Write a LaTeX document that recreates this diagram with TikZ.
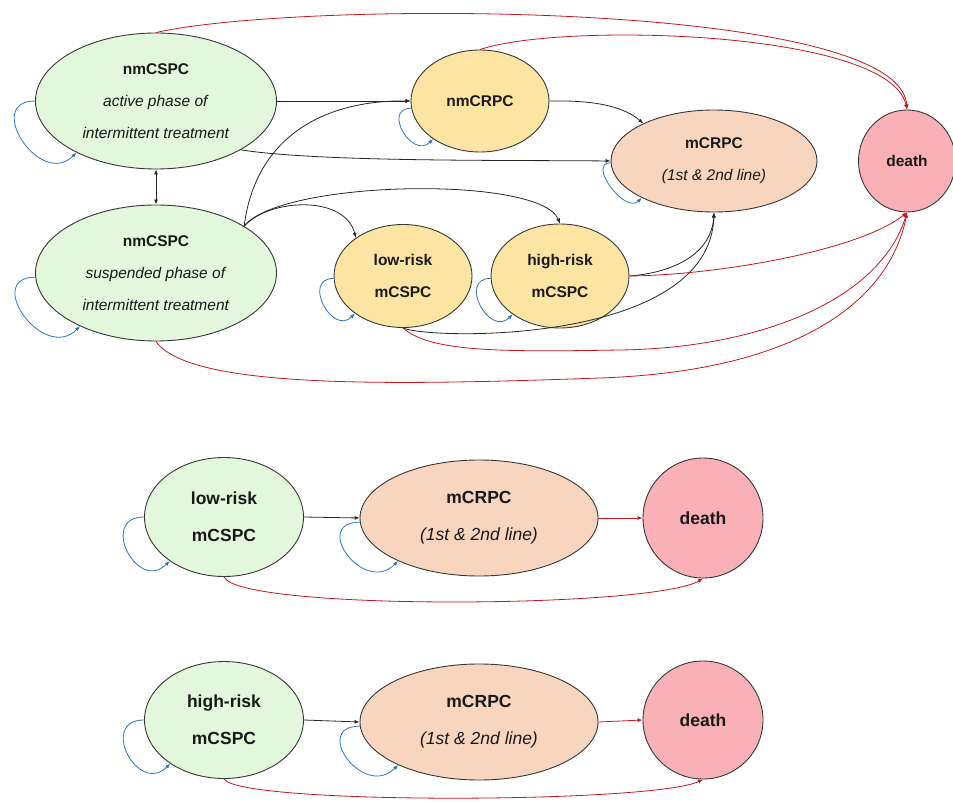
\documentclass[tikz,border=0pt]{standalone}
\usepackage{fontspec}
\setmainfont{Liberation Sans}
\usetikzlibrary{shapes.geometric,arrows.meta}
\definecolor{cspcgreen}{RGB}{226,247,220}
\definecolor{mcspcyellow}{RGB}{252,228,163}
\definecolor{crpcpeach}{RGB}{248,213,190}
\definecolor{deathpink}{RGB}{249,176,183}
\definecolor{edgered}{RGB}{196,22,32}
\definecolor{loopblue}{RGB}{46,117,182}
\definecolor{rimgray}{RGB}{55,55,55}
\tikzset{
  state/.style={ellipse, draw=rimgray, line width=0.9pt, inner sep=0pt, align=center, text=black!90},
  go/.style={->, line width=0.8pt, black!85},
  die/.style={->, line width=0.8pt, edgered},
  stay/.style={->, line width=0.8pt, loopblue, out=180, in=225, looseness=2},
}
\newcommand{\tsmall}{\fontsize{15.5}{32}\selectfont}
\newcommand{\tbig}{\fontsize{17.5}{37}\selectfont}
\begin{document}
\begin{tikzpicture}[x=1pt, y=-1pt, >={Latex[length=5pt,width=4pt]}]
  \useasboundingbox (0,0) rectangle (953,802);
  % upper model
  \node[state, fill=cspcgreen, minimum width=241pt, minimum height=136pt, font=\tsmall] (actv) at (156,101)
    {\textbf{nmCSPC}\\\textit{active phase of}\\\textit{intermittent treatment}};
  \node[state, fill=cspcgreen, minimum width=241pt, minimum height=136pt, font=\tsmall] (susp) at (156,273)
    {\textbf{nmCSPC}\\\textit{suspended phase of}\\\textit{intermittent treatment}};
  \node[state, fill=mcspcyellow, minimum width=138pt, minimum height=102pt, font=\tsmall] (nmcrpc) at (480,101) {\textbf{nmCRPC}};
  \node[state, fill=crpcpeach, minimum width=206pt, minimum height=102pt, font=\tsmall] (mcrpc) at (714,161)
    {\textbf{mCRPC}\\\textit{(1st \& 2nd line)}};
  \node[state, fill=deathpink, minimum width=97pt, minimum height=102pt, font=\tsmall] (death) at (907,161) {\textbf{death}};
  \node[state, fill=mcspcyellow, minimum width=138pt, minimum height=103pt, font=\tsmall] (lowr) at (403,276) {\textbf{low-risk}\\\textbf{mCSPC}};
  \node[state, fill=mcspcyellow, minimum width=138pt, minimum height=104pt, font=\tsmall] (highr) at (560,276) {\textbf{high-risk}\\\textbf{mCSPC}};

  \draw[die] (actv.north) .. controls (300,0) and (900,0) .. (death.north);
  \draw[die] (nmcrpc.north) .. controls (560,22) and (890,30) .. (death.north);
  \draw[go] (actv.east) -- (nmcrpc.west);
  \draw[go] (actv.-30) .. controls (320,162) and (500,160) .. (mcrpc.west);
  \draw[go] (nmcrpc.east) .. controls (600,100) and (625,108) .. (mcrpc.152);
  \draw[go, <->] (actv.south) -- (susp.north);
  \draw[go] (susp.28) .. controls (255,140) and (320,100) .. (nmcrpc.west);
  \draw[go] (susp.28) .. controls (270,198) and (345,195) .. (lowr.141);
  \draw[go] (susp.28) .. controls (280,180) and (540,175) .. (highr.north);
  \draw[go] (lowr.south) .. controls (430,340) and (710,345) .. (mcrpc.south);
  \draw[go] (highr.east) .. controls (680,272) and (712,250) .. (mcrpc.south);
  \draw[die] (highr.east) .. controls (720,275) and (860,250) .. (death.south);
  \draw[die] (lowr.south) .. controls (430,352) and (500,352) .. (620,350)
    .. controls (760,348) and (880,300) .. (death.south);
  \draw[die] (susp.south) .. controls (190,390) and (400,385) .. (600,378)
    .. controls (800,371) and (890,300) .. (death.south);

  \draw[stay] (actv.180) to (actv.213);
  \draw[stay] (susp.182) to (susp.215);
  \draw[stay] (nmcrpc.186) to (nmcrpc.219);
  \draw[stay, looseness=1.3] (mcrpc.181) to (mcrpc.207);
  \draw[stay] (lowr.182) to (lowr.218);
  \draw[stay] (highr.182) to (highr.219);

  % low-risk model
  \node[state, fill=cspcgreen, minimum width=159pt, minimum height=119pt, font=\tbig] (lowB) at (224,517) {\textbf{low-risk}\\\textbf{mCSPC}};
  \node[state, fill=crpcpeach, minimum width=238pt, minimum height=116pt, font=\tbig] (mcrpcB) at (479,518)
    {\textbf{mCRPC}\\\textit{(1st \& 2nd line)}};
  \node[state, fill=deathpink, minimum width=120pt, minimum height=120pt, font=\tbig] (deathB) at (703,518) {\textbf{death}};
  \draw[go] (lowB.east) -- (mcrpcB.west);
  \draw[die] (mcrpcB.east) -- (deathB.west);
  \draw[die] (lowB.south) .. controls +(15,34) and +(-50,30) .. (deathB.south);
  \draw[stay, looseness=2.3] (lowB.180) to (lowB.219);
  \draw[stay, looseness=2.3] (mcrpcB.182) to (mcrpcB.208);

  % high-risk model
  \node[state, fill=cspcgreen, minimum width=159pt, minimum height=117pt, font=\tbig] (highC) at (224,720) {\textbf{high-risk}\\\textbf{mCSPC}};
  \node[state, fill=crpcpeach, minimum width=238pt, minimum height=116pt, font=\tbig] (mcrpcC) at (479,722)
    {\textbf{mCRPC}\\\textit{(1st \& 2nd line)}};
  \node[state, fill=deathpink, minimum width=120pt, minimum height=118pt, font=\tbig] (deathC) at (703,720) {\textbf{death}};
  \draw[go] (highC.east) -- (mcrpcC.west);
  \draw[die] (mcrpcC.east) -- (deathC.west);
  \draw[die] (highC.south) .. controls +(15,26) and +(-50,24) .. (deathC.south);
  \draw[stay, looseness=2.3] (highC.180) to (highC.219);
  \draw[stay, looseness=2.3] (mcrpcC.182) to (mcrpcC.208);
\end{tikzpicture}
\end{document}
